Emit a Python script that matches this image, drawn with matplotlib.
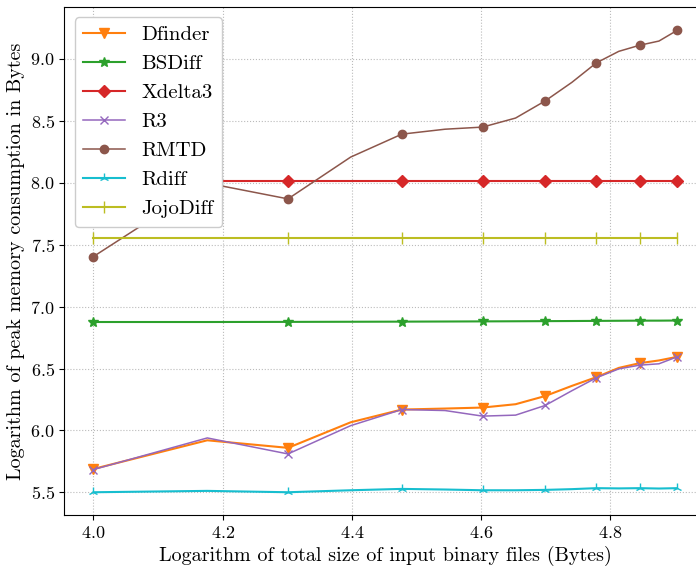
import numpy as np
import matplotlib
matplotlib.use("Agg")
import matplotlib.pyplot as plt

plt.rcParams['font.family'] = 'serif'
plt.rcParams['font.serif'] = ['cmr10']
plt.rcParams['mathtext.fontset'] = 'cm'
plt.rcParams['axes.formatter.use_mathtext'] = True

# total size of input files in KB (10 .. 80)
sizes_kb = [10, 15, 20, 25, 30, 35, 40, 45, 50, 55, 60, 65, 70, 75, 80]

dfinder = [5.690, 5.921, 5.860, 6.066, 6.169, 6.177, 6.185, 6.212, 6.278, 6.360,
           6.430, 6.505, 6.543, 6.565, 6.594]
bsdiff = [6.875, 6.875, 6.876, 6.877, 6.878, 6.879, 6.880, 6.881, 6.882, 6.883,
          6.884, 6.885, 6.886, 6.886, 6.887]
xdelta3 = [8.012] * 15
r3 = [5.685, 5.940, 5.811, 6.039, 6.169, 6.161, 6.116, 6.124, 6.202, 6.321,
      6.425, 6.497, 6.527, 6.538, 6.594]
rmtd = [7.403, 7.995, 7.868, 8.205, 8.390, 8.430, 8.447, 8.520, 8.658, 8.808,
        8.965, 9.058, 9.107, 9.141, 9.227]
rdiff = [5.502, 5.513, 5.502, 5.518, 5.529, 5.524, 5.518, 5.518, 5.521, 5.527,
         5.535, 5.533, 5.535, 5.532, 5.535]
jojodiff = [7.555] * 15

x = np.log10(np.array(sizes_kb) * 1000)

fig = plt.figure(figsize=(6.96, 5.66), dpi=100)
ax = fig.add_axes([0.0925, 0.090, 0.922, 0.8975])

ax.plot(x, dfinder, color='tab:orange', marker='v', ms=7, lw=1.5, markevery=2, label='Dfinder')
ax.plot(x, bsdiff, color='tab:green', marker='*', ms=7, lw=1.5, markevery=2, label='BSDiff')
ax.plot(x, xdelta3, color='tab:red', marker='D', ms=6.5, lw=1.5, markevery=2, label='Xdelta3')
ax.plot(x, r3, color='tab:purple', marker='x', ms=6, lw=1.1, markevery=2, label='R3')
ax.plot(x, rmtd, color='tab:brown', marker='o', ms=6, lw=1.1, markevery=2, label='RMTD')
ax.plot(x, rdiff, color='tab:cyan', marker='2', ms=7, lw=1.5, markevery=2, label='Rdiff')
ax.plot(x, jojodiff, color='tab:olive', marker='|', ms=8, lw=1.5, markevery=2, label='JojoDiff')

ax.set_xlim(3.955, 4.948)
ax.set_ylim(5.318, 9.415)
ax.set_xticks([4.0, 4.2, 4.4, 4.6, 4.8])
ax.set_yticks([5.5, 6.0, 6.5, 7.0, 7.5, 8.0, 8.5, 9.0])
ax.tick_params(labelsize=13)
ax.grid(True, linestyle=':', color='#bbbbbb')

ax.set_xlabel("Logarithm of total size of input binary files (Bytes)", fontsize=14.5)
ax.set_ylabel("Logarithm of peak memory consumption in Bytes", fontsize=14.5)
ax.legend(loc='upper left', fontsize=15, framealpha=1)

fig.savefig("out.png", dpi=100)
